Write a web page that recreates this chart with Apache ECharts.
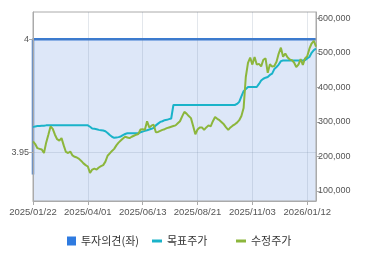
<!DOCTYPE html>
<html>
<head>
<meta charset="utf-8">
<script src="https://cdn.jsdelivr.net/npm/echarts@6/dist/echarts.min.js"></script>
<style>
html,body{margin:0;padding:0;background:#fff;}
#chart{width:370px;height:255px;}
</style>
</head>
<body>
<div id="chart"></div>
<script>
// tick labels on the x axis (shown at every 25th sample)
var xTickLabels = ['2025/01/22', '2025/04/01', '2025/06/13', '2025/08/21', '2025/11/03', '2026/01/12'];
var xTickIndex = [0, 25, 50, 75, 100, 125];
var leftTicks = [3.95, 4];
var rightTicks = [100000, 200000, 300000, 400000, 500000, 600000];

// 투자의견 (left axis) - first sample then constant
var opinion = [3.94, 4, 4, 4, 4, 4, 4, 4, 4, 4, 4, 4, 4, 4, 4, 4, 4, 4, 4, 4, 4, 4, 4, 4, 4, 4, 4, 4, 4, 4, 4, 4, 4, 4, 4, 4, 4, 4, 4, 4, 4, 4, 4, 4, 4, 4, 4, 4, 4, 4, 4, 4, 4, 4, 4, 4, 4, 4, 4, 4, 4, 4, 4, 4, 4, 4, 4, 4, 4, 4, 4, 4, 4, 4, 4, 4, 4, 4, 4, 4, 4, 4, 4, 4, 4, 4, 4, 4, 4, 4, 4, 4, 4, 4, 4, 4, 4, 4, 4, 4, 4, 4, 4, 4, 4, 4, 4, 4, 4, 4, 4, 4, 4, 4, 4, 4, 4, 4, 4, 4, 4, 4, 4, 4, 4, 4, 4, 4, 4, 4];

// 목표주가 (right axis, thousands of won)
var targetK = [285, 287, 288, 288, 289, 289, 290, 290, 290, 290, 290, 290, 290, 290, 290, 290, 290, 290, 290, 290, 290, 290, 290, 290, 290, 290,
  286, 281, 280, 279, 277, 276, 275, 273, 268, 262, 257, 254, 255, 256, 258, 262, 265, 267, 267, 267, 267, 267, 267,
  270, 272, 274, 276, 278, 280, 283, 290, 295, 300, 302, 305, 306, 308, 310, 349,
  349, 349, 349, 349, 349, 349, 349, 349, 349, 349, 349, 349, 349, 349, 349, 349, 349, 349, 349, 349, 349, 349, 349, 349, 349, 349, 349, 349,
  352, 358, 374, 389, 395, 401, 401, 401, 401, 401, 410, 420, 425, 428, 430, 436, 440, 453, 459, 466, 476,
  478, 478, 478, 478, 478, 478, 478, 478, 478, 478, 479, 484, 488, 500, 508, 512];

// 수정주가 (right axis, thousands of won)
var priceK = [244, 236, 224, 222, 220, 210, 240, 263, 287, 280, 263, 250, 246, 253, 232, 213, 210, 214, 203, 199,
  197, 193, 187, 180, 175, 171, 152, 162, 165, 162, 168, 172, 175, 185, 202, 209, 216, 222, 232, 240,
  246, 252, 257, 255, 253, 257, 260, 263, 265, 278, 279, 277, 302, 284, 289, 292, 270, 271, 274, 277,
  279, 282, 284, 286, 288, 290, 296, 302, 316, 329, 324, 317, 311, 288, 264, 278, 284, 284, 277, 284,
  290, 287, 302, 314, 309, 305, 299, 293, 284, 277, 284, 289, 293, 298, 305, 317, 340, 430, 471, 486,
  466, 488, 466, 468, 461, 480, 484, 442, 467, 460, 462, 474, 498, 515, 489, 498, 487, 481, 479, 472,
  459, 466, 482, 465, 484, 490, 512, 527, 535, 518];

function pairs(arr, scale) {
  return arr.map(function (v, i) { return [i, v * scale]; });
}
function commas(v) {
  return String(v).replace(/\B(?=(\d{3})+(?!\d))/g, ',');
}

var chart = echarts.init(document.getElementById('chart'), null, {renderer: 'canvas'});
var labelFont = 'Liberation Sans';
var gridLine = 'rgba(100,120,150,0.18)';
var legendText = {fontSize: 11, color: '#333', fontFamily: 'Noto Sans CJK KR', lineHeight: 12};
chart.setOption({
  animation: false,
  grid: {left: 33, right: 54, top: 12, bottom: 54, containLabel: false, show: true, borderColor: '#aaaaaa', borderWidth: 1, backgroundColor: 'transparent', z: 2},
  legend: [
    {left: 62, top: 230, icon: 'rect', itemWidth: 9, itemHeight: 9, textStyle: legendText,
      data: [{name: '투자의견(좌)', itemStyle: {color: '#2f7be0'}}]},
    {left: 147, top: 230, icon: 'rect', itemWidth: 10, itemHeight: 3, textStyle: legendText,
      data: [{name: '목표주가', itemStyle: {color: '#1ab3c9'}}]},
    {left: 231, top: 230, icon: 'rect', itemWidth: 10, itemHeight: 3, textStyle: legendText,
      data: [{name: '수정주가', itemStyle: {color: '#8cb63c'}}]}
  ],
  xAxis: {
    type: 'value', min: 0, max: opinion.length - 1, z: 2,
    axisLine: {show: true, lineStyle: {color: '#aaaaaa'}},
    axisTick: {show: true, length: 4, lineStyle: {color: '#aaaaaa'}, customValues: xTickIndex},
    axisLabel: {customValues: xTickIndex, margin: 6, fontSize: 9.5, color: '#555', fontFamily: labelFont,
      formatter: function (v) { var k = xTickIndex.indexOf(Math.round(v)); return k >= 0 ? xTickLabels[k] : ''; }},
    splitLine: {show: true, lineStyle: {color: gridLine, width: 1}}
  },
  yAxis: [
    {type: 'value', min: 3.9283, max: 4.0121, position: 'left', z: 2,
      axisLine: {show: true, lineStyle: {color: '#aaaaaa'}},
      axisTick: {show: true, length: 4, lineStyle: {color: '#aaaaaa'}, customValues: leftTicks},
      axisLabel: {customValues: leftTicks, margin: 4, fontSize: 9, color: '#555', fontFamily: labelFont,
        formatter: function (v) { return String(Math.round(v * 100) / 100); }},
      splitLine: {show: true, lineStyle: {color: gridLine, width: 1}}},
    {type: 'value', min: 71050, max: 618240, position: 'right', z: 2,
      axisLine: {show: true, lineStyle: {color: '#aaaaaa'}},
      axisTick: {show: true, length: 4, lineStyle: {color: '#aaaaaa'}, customValues: rightTicks},
      axisLabel: {customValues: rightTicks, margin: 2, fontSize: 9, color: '#555', fontFamily: labelFont,
        formatter: function (v) { return commas(Math.round(v)); }},
      splitLine: {show: false}}
  ],
  series: [
    {name: '투자의견(좌)', type: 'line', yAxisIndex: 0, step: 'start', symbol: 'none',
      data: pairs(opinion, 1),
      itemStyle: {color: '#3a7bd2'},
      lineStyle: {color: '#3a7bd2', width: 2.5},
      areaStyle: {color: '#dde7f8', opacity: 1, origin: 'start'}, z: 1},
    {name: '목표주가', type: 'line', yAxisIndex: 1, symbol: 'none',
      data: pairs(targetK, 1000),
      itemStyle: {color: '#1ab3c9'},
      lineStyle: {color: '#1ab3c9', width: 2}, z: 3},
    {name: '수정주가', type: 'line', yAxisIndex: 1, symbol: 'none',
      data: pairs(priceK, 1000),
      itemStyle: {color: '#8cb63c'},
      lineStyle: {color: '#8cb63c', width: 2}, z: 4}
  ]
});
</script>
</body>
</html>
